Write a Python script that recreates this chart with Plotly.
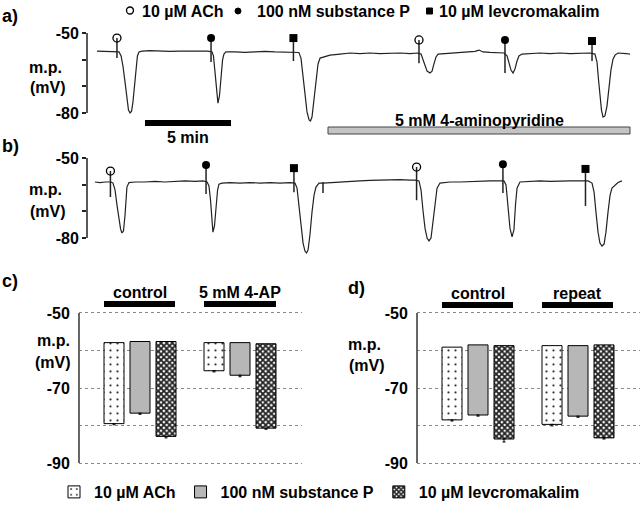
import plotly.graph_objects as go

W, H = 640, 505
def px(x): return x / W
def py(y): return 1 - y / H

FONT = "Liberation Sans, Arial, Helvetica, sans-serif"

# ---------------- data ----------------
# membrane potential traces: (time in min, mV)
trace_a = [(0,-56.8),(0.47,-56.9),(0.87,-56.8),(1.10,-56.8),(1.28,-57.1),(1.40,-58.6),(1.51,-62.4),(1.63,-68.4),(1.74,-75.1),(1.83,-78.9),(1.92,-80.0),(2.01,-79.3),(2.09,-75.9),(2.18,-69.9),(2.27,-63.1),(2.35,-58.6),(2.44,-57.1),(2.62,-56.8),(3.08,-56.6),(3.66,-56.8),(4.24,-56.9),(4.83,-56.8),(5.41,-56.8),(5.99,-56.9),(6.45,-56.8),(6.69,-57.1),(6.77,-58.6),(6.86,-64.6),(6.95,-72.1),(7.03,-76.3),(7.12,-73.6),(7.21,-66.1),(7.30,-60.1),(7.38,-57.9),(7.50,-57.1),(8.02,-57.1),(8.60,-57.3),(9.19,-57.1),(9.77,-56.9),(10.35,-57.1),(10.93,-57.1),(11.51,-57.1),(11.74,-57.3),(11.86,-59.4),(11.98,-65.8),(12.09,-73.3),(12.21,-79.6),(12.33,-82.6),(12.41,-83.0),(12.50,-81.5),(12.62,-75.1),(12.73,-67.6),(12.85,-61.6),(12.97,-59.4),(13.14,-59.0),(13.55,-58.3),(14.13,-57.9),(14.71,-57.5),(15.29,-57.7),(15.87,-57.5),(16.45,-57.7),(17.03,-57.5),(17.62,-57.5),(18.20,-57.7),(18.66,-57.5),(18.84,-57.9),(18.95,-60.1),(19.07,-62.8),(19.19,-64.3),(19.36,-65.0),(19.48,-64.3),(19.59,-61.6),(19.71,-59.0),(19.83,-57.9),(20.23,-57.7),(20.81,-57.5),(21.40,-57.3),(21.98,-56.9),(22.21,-56.4),(22.44,-57.1),(22.85,-57.3),(23.43,-57.5),(23.66,-57.5),(23.84,-58.6),(23.95,-61.6),(24.07,-63.9),(24.19,-65.0),(24.30,-63.5),(24.42,-60.5),(24.53,-58.6),(24.71,-57.9),(25.17,-57.7),(25.76,-57.5),(26.34,-57.7),(26.92,-57.5),(27.50,-57.7),(28.08,-57.5),(28.66,-57.5),(28.95,-57.9),(29.07,-60.9),(29.16,-67.6),(29.24,-74.4),(29.33,-78.9),(29.42,-81.5),(29.53,-81.1),(29.65,-77.4),(29.77,-70.6),(29.88,-63.9),(30.00,-59.8),(30.12,-58.3),(30.29,-57.5),(30.52,-57.5),(30.76,-57.7),(30.99,-57.9)]

trace_b = [(-0.12,-59.0),(0.17,-59.2),(0.47,-59.0),(0.81,-59.0),(0.93,-59.4),(1.05,-62.0),(1.16,-67.6),(1.28,-73.3),(1.37,-76.6),(1.45,-78.1),(1.54,-77.4),(1.63,-71.4),(1.69,-65.0),(1.74,-60.9),(1.86,-59.2),(2.21,-59.0),(2.79,-59.0),(3.37,-58.8),(3.95,-59.0),(4.53,-58.8),(5.12,-58.6),(5.70,-58.8),(6.16,-58.6),(6.40,-59.0),(6.51,-60.5),(6.60,-65.8),(6.69,-74.0),(6.74,-77.8),(6.83,-75.5),(6.92,-67.6),(7.01,-62.0),(7.09,-59.8),(7.27,-59.4),(7.73,-59.2),(8.31,-59.4),(8.90,-59.2),(9.48,-59.4),(10.06,-59.2),(10.64,-59.4),(11.22,-59.2),(11.51,-59.4),(11.63,-61.3),(11.74,-67.6),(11.86,-75.1),(11.98,-81.9),(12.09,-84.9),(12.18,-85.6),(12.27,-84.5),(12.38,-78.9),(12.50,-70.3),(12.62,-63.9),(12.73,-60.9),(12.91,-59.4),(13.14,-59.4),(13.55,-59.2),(14.13,-59.0),(14.71,-58.8),(15.29,-58.6),(15.87,-58.4),(16.45,-58.3),(17.03,-58.3),(17.62,-58.1),(18.20,-58.3),(18.49,-58.3),(18.72,-58.6),(18.84,-62.0),(18.95,-69.5),(19.07,-76.3),(19.19,-80.0),(19.30,-81.1),(19.42,-80.0),(19.53,-74.0),(19.65,-65.8),(19.77,-61.3),(19.94,-59.4),(20.52,-59.0),(21.10,-59.0),(21.69,-58.8),(22.27,-58.8),(22.85,-58.6),(23.43,-58.6),(23.66,-58.6),(23.78,-60.1),(23.90,-67.6),(24.01,-76.3),(24.13,-79.6),(24.24,-77.0),(24.33,-67.6),(24.42,-61.3),(24.59,-59.0),(25.17,-58.8),(25.76,-58.6),(26.34,-58.8),(26.92,-58.6),(27.50,-58.6),(28.08,-58.6),(28.55,-58.6),(28.78,-59.4),(28.90,-62.8),(29.01,-70.3),(29.13,-77.8),(29.24,-81.9),(29.36,-83.0),(29.48,-82.3),(29.59,-77.8),(29.71,-70.3),(29.83,-63.9),(29.94,-61.3),(30.12,-60.1),(30.29,-59.2),(30.52,-58.6)]

# drug applications: kind, time (min), marker level (mV), artefact bottom (mV)
stim_kind = ["ACh", "SP", "LK", "ACh", "SP", "LK"]
stim_a_t = [1.16, 6.63, 11.42, 18.72, 23.72, 28.78]
stim_a_top = [-51.9, -51.9, -51.9, -52.6, -52.6, -53.0]
stim_a_bot = [-59.4, -60.9, -60.5, -61.3, -65.0, -60.5]
stim_b_t = [0.78, 6.34, 11.45, 18.58, 23.60, 28.40]
stim_b_top = [-54.9, -52.6, -53.8, -53.4, -52.3, -54.1]
stim_b_bot = [-64.6, -63.5, -62.8, -65.8, -63.1, -68.0]
artefact_b_t = [13.14]
artefact_b_top = [-59.0]
artefact_b_bot = [-63.1]

agents = ["10 µM ACh", "100 nM substance P", "10 µM levcromakalim"]
groups_c = ["control", "5 mM 4-AP"]
groups_d = ["control", "repeat"]
# resting (bar top) and hyperpolarised (bar bottom) potentials, mV; one list per agent
rest_c = [[-57.9, -57.9], [-57.6, -57.9], [-57.6, -58.2]]
peak_c = [[-79.5, -65.4], [-76.7, -66.6], [-82.9, -80.7]]
sem_c = [[0.3, 0.3], [0.3, 0.4], [0.4, 0.3]]
rest_d = [[-59.1, -58.7], [-58.5, -58.7], [-58.7, -58.5]]
peak_d = [[-78.5, -79.7], [-77.2, -77.5], [-83.6, -83.3]]
sem_d = [[0.3, 0.4], [0.3, 0.3], [0.8, 0.3]]

trace_ticks = [-50, -60, -70, -80]
trace_ticktext = ["-50", "", "", "-80"]
bar_ticks = [-50, -60, -70, -80, -90]
bar_ticktext = ["-50", "", "-70", "", "-90"]

# ---------------- styles ----------------
marker_style = {
    "ACh": dict(symbol="circle-open", size=8, color="black", line=dict(width=1.3, color="black")),
    "SP": dict(symbol="circle", size=8, color="black"),
    "LK": dict(symbol="square", size=8, color="black"),
}
patterns = [
    dict(shape=".", size=7, solidity=0.08, fgcolor="#222", bgcolor="white"),
    dict(shape=".", size=2, solidity=0.5, fgcolor="#8a8a8a", bgcolor="#dadada"),
    dict(shape="x", size=4, solidity=0.7, fgcolor="#222", bgcolor="white"),
]

fig = go.Figure()

def add_trace_panel(data, st_t, st_top, st_bot, xa, ya, extra=None):
    fig.add_trace(go.Scatter(x=[p[0] for p in data], y=[p[1] for p in data], mode="lines",
                             line=dict(color="#222", width=1.2), xaxis=xa, yaxis=ya,
                             showlegend=False, hoverinfo="skip"))
    sx, sy = [], []
    for t, a, b in zip(st_t, st_top, st_bot):
        sx += [t, t, None]; sy += [a, b, None]
    if extra:
        for t, a, b in zip(*extra):
            sx += [t, t, None]; sy += [a, b, None]
    fig.add_trace(go.Scatter(x=sx, y=sy, mode="lines", line=dict(color="#222", width=1.5),
                             xaxis=xa, yaxis=ya, showlegend=False, hoverinfo="skip"))
    for kind in ["ACh", "SP", "LK"]:
        idx = [i for i, k in enumerate(stim_kind) if k == kind]
        fig.add_trace(go.Scatter(x=[st_t[i] for i in idx], y=[st_top[i] for i in idx],
                                 mode="markers", marker=dict(**marker_style[kind]),
                                 xaxis=xa, yaxis=ya, showlegend=False, hoverinfo="skip",
                                 cliponaxis=False))

add_trace_panel(trace_a, stim_a_t, stim_a_top, stim_a_bot, "x", "y")
add_trace_panel(trace_b, stim_b_t, stim_b_top, stim_b_bot, "x2", "y2",
                extra=(artefact_b_t, artefact_b_top, artefact_b_bot))

def add_bar_panel(groups, rest, peak, sem, xa, ya, legend):
    for i, name in enumerate(agents):
        fig.add_trace(go.Bar(
            x=groups, base=rest[i], y=[p - r for p, r in zip(peak[i], rest[i])],
            name=name, xaxis=xa, yaxis=ya, showlegend=legend, legendgroup=name,
            marker=dict(color="white", pattern=patterns[i], line=dict(color="black", width=1)),
            error_y=dict(type="data", symmetric=False, array=[0] * len(sem[i]), arrayminus=sem[i],
                         color="black", thickness=1, width=1.5),
            hoverinfo="skip"))

add_bar_panel(groups_c, rest_c, peak_c, sem_c, "x3", "y3", True)
add_bar_panel(groups_d, rest_d, peak_d, sem_d, "x4", "y4", False)

tickfont = dict(family=FONT, size=16, color="black", weight="bold")
hidden_x = dict(showline=False, showticklabels=False, showgrid=False, zeroline=False, ticks="",
                automargin=False)

# time axes for panels a and b: x pixels 87..635 ; 97 px = t0, 17.2 px per min
t_lo, t_hi = (87 - 97) / 17.2, (635 - 97) / 17.2
trace_y = dict(showgrid=False, zeroline=False, showline=False, ticks="outside", ticklen=4,
               tickwidth=1.5, tickcolor="#222", tickvals=trace_ticks, ticktext=trace_ticktext,
               tickfont=tickfont, automargin=False)
# bar axes: -50 at y=313 px, -90 at y=463 px (3.75 px per mV), small padding so edge grids show
bar_y = dict(range=[-90.3, -49.7], showgrid=True, griddash="dot", gridcolor="#888", gridwidth=1,
             zeroline=False, showline=False, ticks="outside",
             ticklen=5, tickcolor="rgba(0,0,0,0)", tickvals=bar_ticks, ticktext=bar_ticktext,
             tickfont=tickfont, automargin=False)

fig.update_layout(
    template="none",
    width=W, height=H, margin=dict(l=0, r=0, t=0, b=0, pad=0, autoexpand=False),
    paper_bgcolor="white", plot_bgcolor="white",
    font=dict(family=FONT, size=16, color="black"),
    barmode="group", bargap=0.22, bargroupgap=0.2308,
    xaxis=dict(domain=[px(87), px(635)], range=[t_lo, t_hi], anchor="y", **hidden_x),
    yaxis=dict(domain=[py(129), py(25)], range=[-86, -47], anchor="x", **trace_y),
    xaxis2=dict(domain=[px(87), px(635)], range=[t_lo, t_hi], anchor="y2", **hidden_x),
    yaxis2=dict(domain=[py(259.33), py(150)], range=[-88, -47], anchor="x2", **trace_y),
    xaxis3=dict(domain=[px(79), px(302)], range=[-0.61, 1.62], anchor="y3", **hidden_x),
    yaxis3=dict(domain=[py(464.125), py(311.875)], anchor="x3", **bar_y),
    xaxis4=dict(domain=[px(417), px(640)], range=[-0.61, 1.62], anchor="y4", **hidden_x),
    yaxis4=dict(domain=[py(464.125), py(311.875)], anchor="x4", **bar_y),
    legend=dict(orientation="h", x=px(54), y=py(492), xanchor="left", yanchor="middle",
                font=dict(family=FONT, size=16, color="black", weight="bold"),
                bgcolor="rgba(0,0,0,0)", borderwidth=0, itemclick=False, itemdoubleclick=False),
)

shapes = []
annos = []

def text(x, y, s, size=16, xanchor="center"):
    annos.append(dict(x=px(x), y=py(y), xref="paper", yref="paper", text=s, showarrow=False,
                      xanchor=xanchor, yanchor="middle",
                      font=dict(family=FONT, size=size, color="black", weight="bold")))

# y-axis lines for trace panels (only from -50 to -80) and bar panels (-50 to -90)
for ya in ["y", "y2"]:
    shapes.append(dict(type="line", xref="paper", yref=ya, x0=px(87), x1=px(87), y0=-50, y1=-80,
                       line=dict(color="#222", width=1.5)))
for ya, xl in [("y3", 79), ("y4", 417)]:
    shapes.append(dict(type="line", xref="paper", yref=ya, x0=px(xl), x1=px(xl), y0=-50, y1=-90,
                       line=dict(color="#666", width=2)))

# top key
shapes.append(dict(type="circle", xref="paper", yref="paper", x0=px(126.5), x1=px(133.5),
                   y0=py(14), y1=py(7), line=dict(color="black", width=1.3), fillcolor="white"))
shapes.append(dict(type="circle", xref="paper", yref="paper", x0=px(235), x1=px(241),
                   y0=py(14), y1=py(8), line=dict(color="black", width=1), fillcolor="black"))
shapes.append(dict(type="rect", xref="paper", yref="paper", x0=px(426.5), x1=px(432.5),
                   y0=py(14), y1=py(8), line=dict(color="black", width=1), fillcolor="black"))
text(140, 11, "10 µM ACh", xanchor="left")
text(255, 11, "100 nM substance P", xanchor="left")
text(437, 11, "10 µM levcromakalim", xanchor="left")

# panel letters
text(0, 16, "a)", size=18, xanchor="left")
text(0, 146, "b)", size=18, xanchor="left")
text(0, 281, "c)", size=18, xanchor="left")
text(346, 288, "d)", size=18, xanchor="left")

# axis titles
for (x1, y1, x2, y2) in [(45, 67, 48, 88), (45, 189, 48, 212), (53, 340, 53, 362), (364, 344, 367, 365)]:
    text(x1, y1, "m.p.")
    text(x2, y2, "(mV)")

# 5 min scale bar
shapes.append(dict(type="rect", xref="paper", yref="paper", x0=px(145), x1=px(231), y0=py(126),
                   y1=py(120), fillcolor="black", line=dict(width=0)))
text(188, 137, "5 min")

# 4-aminopyridine bar
shapes.append(dict(type="rect", xref="paper", yref="paper", x0=px(328), x1=px(630), y0=py(134),
                   y1=py(127), fillcolor="#c4c4c4", line=dict(color="#444", width=1)))
text(479, 120, "5 mM 4-aminopyridine")

# group bars in c and d
for (x0, x1, yb, lab) in [(104, 175, 301, "control"), (204, 276, 301, "5 mM 4-AP"),
                          (442, 513, 302, "control"), (542, 613, 302, "repeat")]:
    shapes.append(dict(type="rect", xref="paper", yref="paper", x0=px(x0), x1=px(x1),
                       y0=py(yb + 6), y1=py(yb), fillcolor="black", line=dict(width=0)))
    text((x0 + x1) / 2, yb - 9, lab)

fig.update_layout(shapes=shapes, annotations=annos)
fig.write_html("out.html", config={"displayModeBar": False},
               post_script="document.body.style.margin='0';document.body.style.overflow='hidden';")
